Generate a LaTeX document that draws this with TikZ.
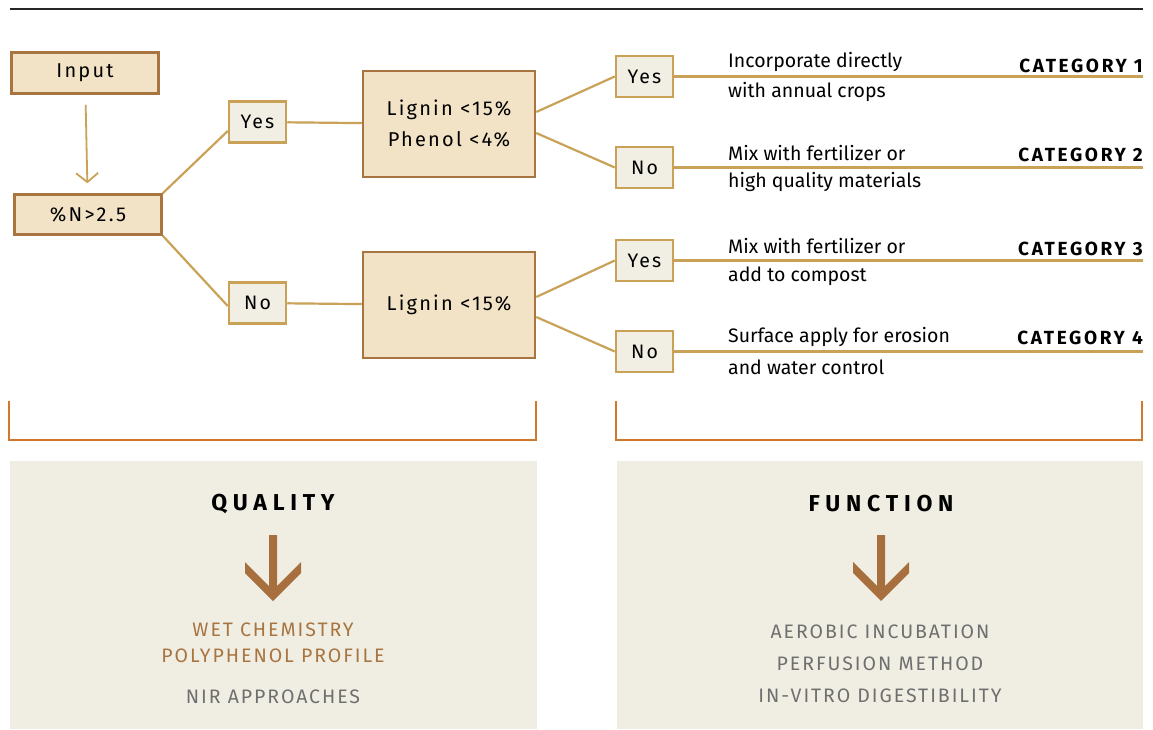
\documentclass[tikz,border=0pt]{standalone}
\usepackage{fontspec}
\setmainfont{Fira Sans}
\newfontfamily\spacedfont{Fira Sans}[LetterSpace=11]
\newfontfamily\widefont{Fira Sans}[LetterSpace=25]
\newfontfamily\catfont{Fira Sans}[LetterSpace=14]
\newfontfamily\capsfont{Fira Sans}[LetterSpace=10]
\usetikzlibrary{arrows.meta}
\definecolor{boxfill}{HTML}{F2E3C6}
\definecolor{boxline}{HTML}{A8743F}
\definecolor{cream}{HTML}{F1EFE4}
\definecolor{gold}{HTML}{C9A257}
\definecolor{bracketc}{HTML}{D2782E}
\definecolor{panelc}{HTML}{F0EEE3}
\definecolor{arrowc}{HTML}{A66F3D}
\definecolor{greytext}{HTML}{6F6F6F}
\begin{document}
\begin{tikzpicture}[x=1pt,y=-1pt,
    bigbox/.style={draw=boxline, fill=boxfill, line width=2.5pt, inner sep=0pt, align=center,
      font=\spacedfont\fontsize{20}{31}\selectfont},
    smallbox/.style={draw=gold, fill=cream, line width=2.5pt, inner sep=0pt,
      minimum width=57pt, minimum height=41pt, font=\spacedfont\fontsize{19.5}{22}\selectfont},
    link/.style={draw=gold, line width=2.2pt},
    note/.style={anchor=west, inner sep=0pt, font=\fontsize{19.5}{22}\selectfont},
    cat/.style={anchor=east, inner sep=0pt, font=\catfont\bfseries\fontsize{19}{22}\selectfont},
    method/.style={inner sep=0pt, font=\capsfont\fontsize{19.5}{22}\selectfont}]
   \useasboundingbox (0,0) rectangle (1153,729);
   \draw[line width=1.2pt, black!85] (10,9) -- (1143,9);

   % decision tree
   \node[bigbox, minimum width=147pt, minimum height=41pt] (input) at (85,73) {Input};
   \node[bigbox, minimum width=147pt, minimum height=40pt] (nitro) at (88,214.5) {\%N>2.5};
   \node[smallbox] (yesL) at (257.5,122) {Yes};
   \node[smallbox] (noL)  at (257.5,303) {No};
   \node[bigbox, minimum width=172pt, minimum height=106pt] (lig1) at (449,124) {Lignin <15\%\\Phenol <4\%};
   \node[bigbox, minimum width=172pt, minimum height=106pt] (lig2) at (449,305) {Lignin <15\%};
   \node[smallbox] (y1) at (644.5,76.5)  {Yes};
   \node[smallbox] (n1) at (644.5,167.5) {No};
   \node[smallbox] (y2) at (644.5,260.5) {Yes};
   \node[smallbox] (n2) at (644.5,351.5) {No};

   \draw[link, line width=1.8pt, shorten <=10pt, shorten >=10pt, -{Straight Barb[length=9pt, width=22pt]}] (input) -- (nitro);
   \draw[link] (nitro.north east) -- ([yshift=-9pt]yesL.west);
   \draw[link] (nitro.south east) -- ([yshift=-3pt]noL.west);
   \draw[link] (yesL) -- (lig1);
   \draw[link] (noL) -- (lig2);
   \draw[link] ([yshift=12pt]lig1.east) -- (y1.west);
   \draw[link] ([yshift=-9pt]lig1.east) -- (n1.west);
   \draw[link] ([yshift=8pt]lig2.east) -- (y2.west);
   \draw[link] ([yshift=-12pt]lig2.east) -- (n2.west);

   % outcomes
   \coordinate (c1) at (1143,76.5);
   \coordinate (c2) at (1143,167.5);
   \coordinate (c3) at (1143,260.5);
   \coordinate (c4) at (1143,351.5);
   \draw[link] (y1) -- (c1);
   \draw[link] (n1) -- (c2);
   \draw[link] (y2) -- (c3);
   \draw[link] (n2) -- (c4);
   \node[note] (t1a) at (728,62)  {Incorporate directly};
   \node[note] (t1b) at (728,92)  {with annual crops};
   \node[note] (t2a) at (728,153) {Mix with fertilizer or};
   \node[note] (t2b) at (728,182) {high quality materials};
   \node[note] (t3a) at (728,246) {Mix with fertilizer or};
   \node[note] (t3b) at (728,276) {add to compost};
   \node[note] (t4a) at (728,337) {Surface apply for erosion};
   \node[note] (t4b) at (728,367) {and water control};
   \node[cat] (k1) at (1143,66)  {CATEGORY 1};
   \node[cat] (k2) at (1143,155) {CATEGORY 2};
   \node[cat] (k3) at (1143,249) {CATEGORY 3};
   \node[cat] (k4) at (1143,338) {CATEGORY 4};

   % brackets and panels
   \draw[bracketc, line width=2pt] (9,401) |- (536,440) -- (536,401);
   \draw[bracketc, line width=2pt] (616,401) |- (1142,440) -- (1142,401);
   \fill[panelc] (10,461) rectangle (537,729);
   \fill[panelc] (617,461) rectangle (1143,729);
   \node[font=\widefont\bfseries\fontsize{23}{26}\selectfont] (quality) at (273,504) {QUALITY};
   \node[font=\widefont\bfseries\fontsize{23}{26}\selectfont] (function) at (881,504) {FUNCTION};
   \foreach \cx in {273,881}
     \fill[arrowc] ({\cx-4},535) -- ({\cx+4},535) -- ({\cx+4},586) -- ({\cx+28},562) -- ({\cx+28},573)
        -- (\cx,601) -- ({\cx-28},573) -- ({\cx-28},562) -- ({\cx-4},586) -- cycle;
   \node[method, text=boxline] (wet)  at (273,630) {WET CHEMISTRY};
   \node[method, text=boxline] (poly) at (273,656) {POLYPHENOL PROFILE};
   \node[method, text=greytext] (nir) at (273,697) {NIR APPROACHES};
   \node[method, text=greytext] (aero) at (880,632) {AEROBIC INCUBATION};
   \node[method, text=greytext] (perf) at (880,664) {PERFUSION METHOD};
   \node[method, text=greytext] (vitro) at (880,696) {IN-VITRO DIGESTIBILITY};
\end{tikzpicture}
\end{document}
